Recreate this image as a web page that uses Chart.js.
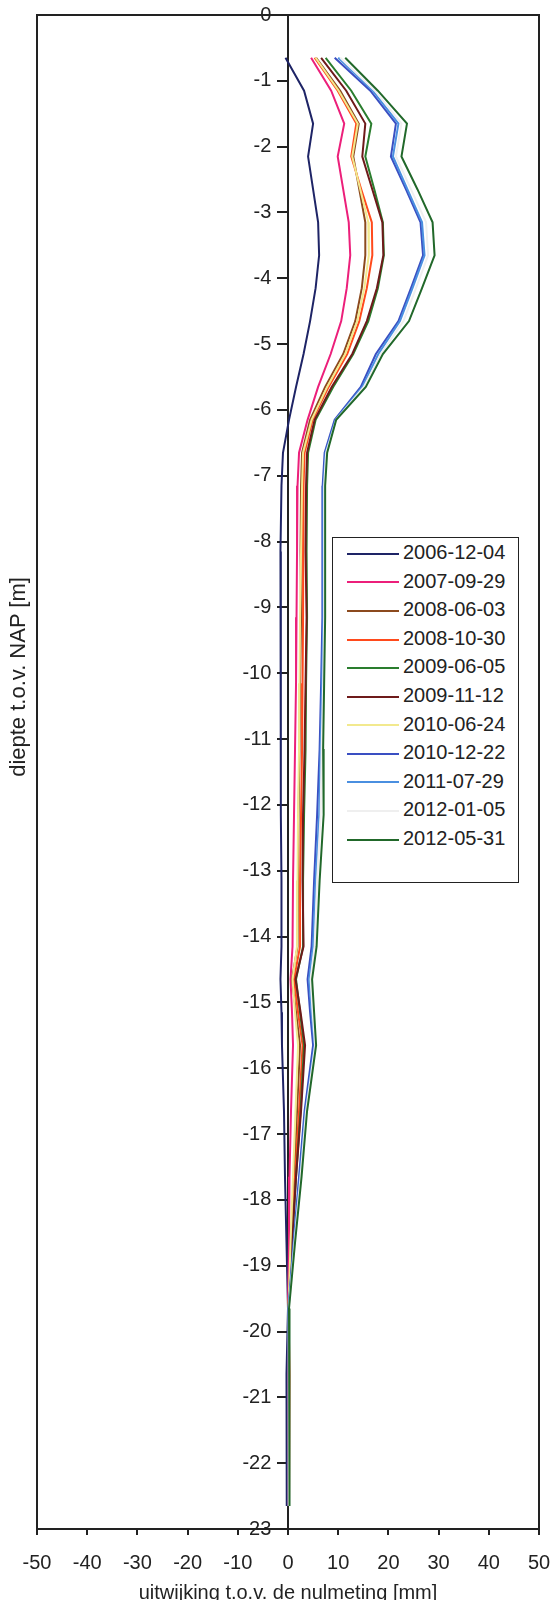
<!DOCTYPE html>
<html>
<head>
<meta charset="utf-8">
<script src="https://cdn.jsdelivr.net/npm/chart.js@4.4.0/dist/chart.umd.min.js"></script>
<style>
  html, body { margin: 0; padding: 0; background: #fff; overflow: hidden; }
  #wrap { position: relative; width: 553px; height: 1600px; }
  #yTitle {
    position: absolute; left: -133px; top: 665px; width: 300px; height: 24px;
    line-height: 24px; text-align: center; transform: rotate(-90deg);
    font: 22px "Liberation Sans", Arial, sans-serif; color: #222;
  }
  #legend {
    position: absolute; left: 332px; top: 537px; width: 187px; height: 346px;
    border: 1px solid #222; box-sizing: border-box; background: #fff;
    font: 20px "Liberation Sans", Arial, sans-serif; color: #222;
  }
  #legend div { height: 28.6px; line-height: 28.6px; white-space: nowrap; }
  #legend span.line { display: inline-block; width: 52px; height: 2px; margin: 0 4px 0 14px; vertical-align: middle; }
</style>
</head>
<body>
<div id="wrap">
  <canvas id="chart" width="553" height="1600"></canvas>
  <div id="yTitle">diepte t.o.v. NAP [m]</div>
  <div id="legend"></div>
</div>
<script>
// diepte van de meetpunten (m t.o.v. NAP)
const depths = [-0.65, -1.15, -1.65, -2.15, -2.65, -3.15, -3.65, -4.15, -4.65, -5.15, -5.65, -6.15, -6.65, -7.15, -8.15, -9.15, -10.15, -11.15, -12.15, -13.15, -14.15, -14.65, -15.15, -15.65, -16.65, -17.65, -18.65, -19.65, -20.65, -21.65, -22.65];

const labels = ['2006-12-04', '2007-09-29', '2008-06-03', '2008-10-30', '2009-06-05', '2009-11-12', '2010-06-24', '2010-12-22', '2011-07-29', '2012-01-05', '2012-05-31'];
const colors = ['#1e2466', '#ec1f7a', '#8c4a1e', '#ff4a1c', '#2a7d2e', '#6e1a1a', '#f2e98e', '#3a4fc2', '#4a8fe0', '#efefef', '#21682a'];

// uitwijking (mm) per meting
const s20061204 = [-0.5, 3.2, 5.0, 4.0, 5.0, 6.0, 6.2, 5.5, 4.4, 3.1, 1.6, 0.2, -1.0, -1.3, -1.5, -1.4, -1.5, -1.4, -1.4, -1.3, -1.3, -1.5, -1.3, -1.2, -0.8, -0.6, -0.3, 0.0, -0.3, -0.2, -0.3];
const s20070929 = [4.6, 8.6, 11.2, 9.9, 11.0, 12.1, 12.4, 11.7, 10.6, 8.5, 6.0, 3.9, 2.2, 1.9, 1.8, 1.7, 1.6, 1.4, 1.2, 1.0, 0.9, 0.5, 0.8, 1.0, 0.6, 0.3, 0.2, 0.0, 0.1, 0.1, 0.0];
const s20080603 = [5.6, 10.4, 14.1, 13.0, 14.2, 15.4, 15.4, 14.7, 13.4, 11.0, 7.4, 4.4, 2.8, 2.6, 2.5, 2.6, 2.4, 2.3, 2.1, 2.0, 1.9, 0.8, 1.6, 2.4, 1.8, 1.2, 0.6, 0.1, 0.2, 0.2, 0.2];
const s20081030 = [5.3, 9.9, 13.6, 12.6, 14.6, 16.7, 16.8, 15.7, 14.2, 11.8, 8.1, 4.9, 3.3, 3.1, 3.0, 3.0, 2.9, 2.8, 2.6, 2.4, 2.4, 1.2, 2.0, 2.9, 2.2, 1.4, 0.7, 0.1, 0.3, 0.2, 0.2];
const s20090605 = [7.5, 12.6, 16.6, 15.4, 17.2, 18.9, 19.1, 17.9, 16.0, 13.0, 9.0, 5.5, 4.0, 3.8, 3.7, 3.8, 3.6, 3.5, 3.2, 3.0, 3.0, 1.6, 2.4, 3.2, 2.5, 1.6, 0.8, 0.1, 0.2, 0.2, 0.2];
const s20091112 = [6.6, 11.6, 15.4, 14.8, 16.8, 18.8, 19.0, 17.7, 15.7, 12.8, 8.7, 5.3, 3.8, 3.6, 3.5, 3.7, 3.5, 3.3, 3.0, 2.9, 3.1, 1.5, 2.5, 3.4, 2.6, 1.6, 0.8, 0.1, 0.2, 0.2, 0.2];
const s20100624 = [5.5, 10.1, 13.9, 12.8, 14.4, 16.0, 16.1, 15.2, 13.8, 11.4, 7.8, 4.7, 3.0, 2.8, 2.6, 2.4, 2.3, 2.2, 2.0, 1.9, 1.8, 0.9, 1.4, 2.0, 1.5, 1.0, 0.5, 0.1, 0.1, 0.1, 0.1];
const s20101222 = [9.3, 16.4, 21.5, 20.5, 23.5, 26.4, 26.9, 24.5, 22.0, 17.5, 14.5, 9.3, 7.3, 6.9, 6.8, 6.9, 6.6, 6.3, 5.8, 5.2, 4.7, 3.9, 4.4, 5.0, 3.3, 2.2, 1.1, 0.1, 0.1, 0.1, 0.1];
const s20110729 = [10.0, 16.9, 22.0, 20.9, 23.8, 26.7, 27.2, 24.8, 22.3, 18.0, 14.8, 9.5, 7.5, 7.1, 7.0, 7.1, 6.8, 6.5, 6.2, 5.5, 5.0, 4.2, 4.7, 5.3, 3.5, 2.4, 1.2, 0.1, 0.2, 0.2, 0.2];
const s20120105 = [10.4, 17.3, 22.6, 21.5, 24.5, 27.5, 27.9, 25.5, 23.0, 18.5, 15.1, 9.6, 7.6, 7.2, 7.2, 7.2, 7.0, 6.7, 6.5, 5.8, 5.3, 4.5, 4.9, 5.4, 3.6, 2.5, 1.3, 0.2, 0.2, 0.2, 0.2];
const s20120531 = [11.4, 17.9, 23.7, 22.6, 25.8, 28.8, 29.2, 26.7, 24.1, 18.9, 15.5, 9.6, 7.8, 7.4, 7.4, 7.4, 7.2, 7.0, 7.1, 6.3, 5.7, 4.8, 5.2, 5.6, 3.8, 2.7, 1.4, 0.2, 0.3, 0.3, 0.3];

const series = [s20061204, s20070929, s20080603, s20081030, s20090605, s20091112, s20100624, s20101222, s20110729, s20120105, s20120531];

const xTicks = [-50, -40, -30, -20, -10, 0, 10, 20, 30, 40, 50];

const fontFamily = '"Liberation Sans", Arial, sans-serif';
const ink = '#222';

// kader rond het plotgebied
const frame = {
  id: 'frame',
  beforeDatasetsDraw(chart) {
    const {ctx, chartArea: a} = chart;
    ctx.save();
    ctx.strokeStyle = ink;
    ctx.lineWidth = 2;
    ctx.strokeRect(a.left, a.top, a.right - a.left, a.bottom - a.top);
    ctx.restore();
  }
};

const datasets = series.map((vals, i) => ({
  label: labels[i],
  data: depths.map((d, j) => ({x: vals[j], y: d})),
  borderColor: colors[i],
  backgroundColor: colors[i],
  borderWidth: 2,
  showLine: true,
  pointRadius: 0,
  tension: 0,
  order: series.length - i
}));

const chart = new Chart(document.getElementById('chart'), {
  type: 'scatter',
  data: { datasets: datasets },
  options: {
    responsive: false,
    animation: false,
    events: [],
    layout: { padding: { left: 37, right: 14, top: 15, bottom: -5 } },
    plugins: { legend: { display: false }, tooltip: { enabled: false } },
    scales: {
      x: {
        type: 'linear',
        min: -50,
        max: 50,
        afterBuildTicks: (axis) => { axis.ticks = xTicks.map(v => ({value: v})); },
        // vaste hoogte, geen extra zijmarge door de labels
        afterFit: (axis) => { axis.paddingLeft = 0; axis.paddingRight = 0; axis.height = 76; },
        grid: { drawOnChartArea: false, drawTicks: true, tickLength: 6, color: ink, lineWidth: 2 },
        border: { display: true, color: ink, width: 2 },
        ticks: { color: ink, padding: 16, maxRotation: 0, font: { size: 20, family: fontFamily } },
        title: {
          display: true,
          text: 'uitwijking t.o.v. de nulmeting [mm]',
          color: ink,
          padding: { top: 0, bottom: 0 },
          font: { size: 20, family: fontFamily }
        }
      },
      y: {
        type: 'linear',
        min: -23,
        max: 0,
        position: { x: 0 },
        grid: { drawOnChartArea: false, drawTicks: true, tickLength: 10, color: ink, lineWidth: 2 },
        border: { display: true, color: ink, width: 2 },
        ticks: {
          stepSize: 1,
          color: ink,
          font: { size: 20, family: fontFamily },
          // labels links van de streepjes
          callback: (v) => v + '   '
        }
      }
    }
  },
  plugins: [frame]
});

// legenda in het plotgebied
const legend = document.getElementById('legend');
chart.data.datasets.forEach((ds) => {
  const row = document.createElement('div');
  const line = document.createElement('span');
  line.className = 'line';
  line.style.background = ds.borderColor;
  row.appendChild(line);
  row.appendChild(document.createTextNode(ds.label));
  legend.appendChild(row);
});
</script>
</body>
</html>
